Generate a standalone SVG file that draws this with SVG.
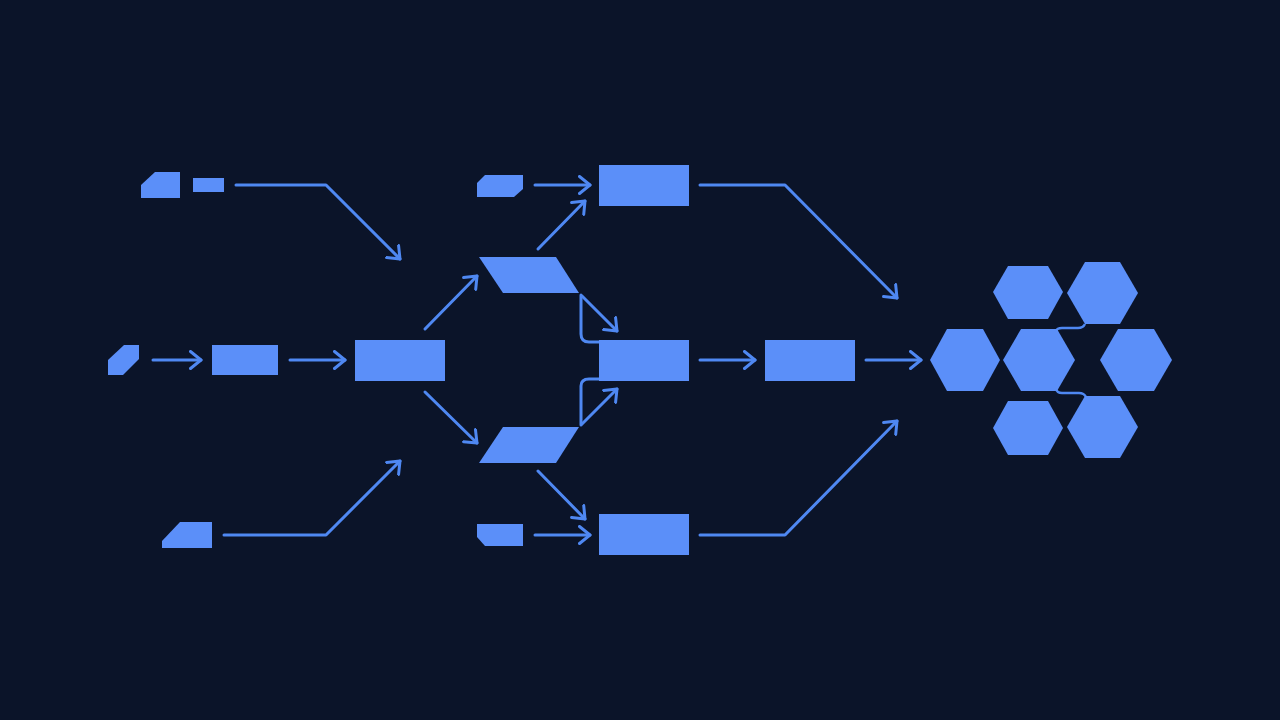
<svg xmlns="http://www.w3.org/2000/svg" width="1280" height="720" viewBox="0 0 1280 720">
<defs>
<style>
.n{fill:#5b8ff9;}
.c{fill:none;stroke:#4f88f2;stroke-width:3;stroke-linecap:round;stroke-linejoin:round;}
.a{marker-end:url(#arr);}
.t{fill:none;stroke:#4f88f2;stroke-width:2.5;}
</style>
<marker id="arr" viewBox="0 0 14 20" refX="12" refY="10" markerWidth="14" markerHeight="20" markerUnits="userSpaceOnUse" orient="auto">
<path d="M1.5,1.5 L12,10 L1.5,18.5" fill="none" stroke="#4f88f2" stroke-width="3" stroke-linecap="round" stroke-linejoin="round"/>
</marker>
</defs>
<rect width="1280" height="720" fill="#0b1429"/>
<g id="connectors">
<path class="c a" d="M236,185 H326 L400,259"/>
<path class="c a" d="M153,360 H201"/>
<path class="c a" d="M290,360 H345"/>
<path class="c a" d="M224,535 H326 L400,461"/>
<path class="c a" d="M425,329 L477,276"/>
<path class="c a" d="M425,392 L477,443"/>
<path class="c a" d="M535,185 H590"/>
<path class="c a" d="M538,249 L585,201"/>
<path class="c a" d="M582,296 L617,331"/>
<path class="c" d="M581,295 V334 Q581,342 589,342 H599"/>
<path class="c" d="M581,425 V386 Q581,379 589,379 H599"/>
<path class="c a" d="M582,424 L617,389"/>
<path class="c a" d="M538,471 L585,519"/>
<path class="c a" d="M535,535 H590"/>
<path class="c a" d="M700,185 H785 L897,298"/>
<path class="c a" d="M700,360 H755"/>
<path class="c a" d="M866,360 H921"/>
<path class="c a" d="M700,535 H785 L897,421"/>
<path class="t" d="M1085,324 Q1083,328 1078,328 H1062 Q1057,328 1056,331"/>
<path class="t" d="M1056,389 Q1057,393 1062,393 H1079 Q1084,393 1086,397"/>
</g>
<g id="src-top"><polygon class="n" points="141,185 155,172 180,172 180,198 141,198"/></g>
<g id="src-top-small"><rect class="n" x="193" y="178" width="31" height="14"/></g>
<g id="src-mid"><polygon class="n" points="108,360 124,345 139,345 139,359 123,375 108,375"/></g>
<g id="mid-rect-1"><rect class="n" x="212" y="345" width="66" height="30"/></g>
<g id="hub"><rect class="n" x="355" y="340" width="90" height="41"/></g>
<g id="src-bottom"><polygon class="n" points="162,541 180,522 212,522 212,548 162,548"/></g>
<g id="para-top"><polygon class="n" points="479,257 556,257 579,293 503,293"/></g>
<g id="para-bottom"><polygon class="n" points="503,427 579,427 556,463 479,463"/></g>
<g id="tag-top"><polygon class="n" points="477,183 485,175 523,175 523,189 514,197 477,197"/></g>
<g id="tag-bottom"><polygon class="n" points="477,524 523,524 523,546 485,546 477,537"/></g>
<g id="box-top"><rect class="n" x="599" y="165" width="90" height="41"/></g>
<g id="box-mid"><rect class="n" x="599" y="340" width="90" height="41"/></g>
<g id="box-bottom"><rect class="n" x="599" y="514" width="90" height="41"/></g>
<g id="box-right"><rect class="n" x="765" y="340" width="90" height="41"/></g>
<g id="hex-left"><polygon class="n" points="930,360 947,329 983,329 1000,360 983,391 947,391"/></g>
<g id="hex-center"><polygon class="n" points="1003,360 1021,329 1057,329 1075,360 1057,391 1021,391"/></g>
<g id="hex-right"><polygon class="n" points="1100,360 1118,329 1154,329 1172,360 1154,391 1118,391"/></g>
<g id="hex-top-left"><polygon class="n" points="993,292 1008,266 1048,266 1063,292 1048,319 1008,319"/></g>
<g id="hex-top-right"><polygon class="n" points="1067,293 1085,262 1120,262 1138,293 1120,324 1085,324"/></g>
<g id="hex-bottom-left"><polygon class="n" points="993,428 1008,401 1048,401 1063,428 1048,455 1008,455"/></g>
<g id="hex-bottom-right"><polygon class="n" points="1067,427 1085,396 1120,396 1138,427 1120,458 1085,458"/></g>
</svg>
